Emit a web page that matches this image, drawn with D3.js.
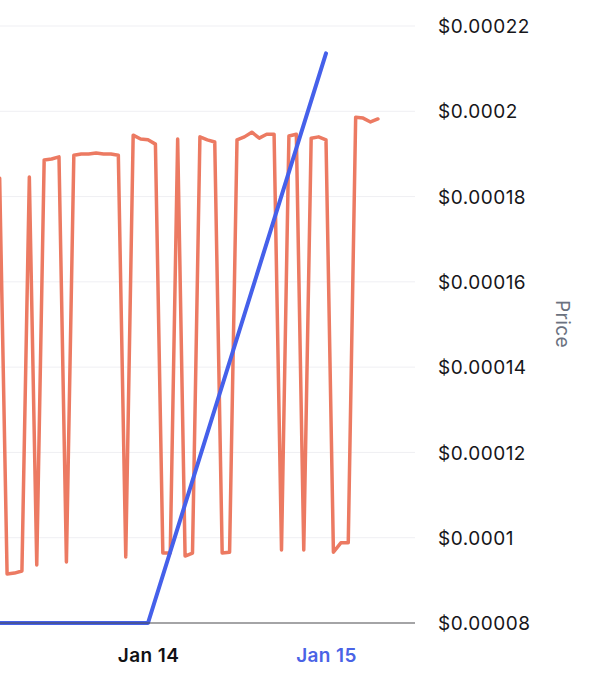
<!DOCTYPE html>
<html>
<head>
<meta charset="utf-8">
<script src="https://cdn.jsdelivr.net/npm/d3@7"></script>
<style>
  html, body { margin: 0; padding: 0; background: #ffffff; }
  svg { display: block; font-family: Inter, "Noto Sans", sans-serif; }
</style>
</head>
<body>
<svg id="chart" width="606" height="680"></svg>
<script>
// ---- data ----
// hourly price series (orange), starting Jan 13 04:00
const orangeStart = "2024-01-13T04:00:00";
const orangeValues = [
  0.0001843, 0.0000915, 0.0000917, 0.0000922, 0.0001846, 0.0000936, 0.0001886, 0.0001888,
  0.0001893, 0.0000943, 0.0001897, 0.0001900, 0.0001900, 0.0001902, 0.0001900, 0.0001900,
  0.0001897, 0.0000955, 0.0001944, 0.0001935, 0.0001933, 0.0001923, 0.0000964, 0.0000964,
  0.0001935, 0.0000957, 0.0000964, 0.0001940, 0.0001933, 0.0001928, 0.0000964, 0.0000966,
  0.0001933, 0.0001940, 0.0001951, 0.0001937, 0.0001946, 0.0001946, 0.0000971, 0.0001942,
  0.0001946, 0.0000971, 0.0001937, 0.0001940, 0.0001933, 0.0000966, 0.0000988, 0.0000988,
  0.0001986, 0.0001984, 0.0001975, 0.0001982
];
// daily series (blue)
const blueDates = ["2024-01-12", "2024-01-13", "2024-01-14", "2024-01-15"];
const blueValues = [0.00008, 0.00008, 0.00008, 0.0002136];
// axes
const yTicks = [0.00008, 0.0001, 0.00012, 0.00014, 0.00016, 0.00018, 0.0002, 0.00022];
const xTickDates = ["2024-01-14", "2024-01-15"];
const xTickLabels = ["Jan 14", "Jan 15"];
const yAxisTitle = "Price";

// ---- layout ----
const parseDay = d3.timeParse("%Y-%m-%d");
const parseHour = d3.isoParse;
const plotLeft = 0, plotRight = 415, plotTop = 26, plotBottom = 623;

const x = d3.scaleTime()
  .domain([parseDay("2024-01-14"), parseDay("2024-01-15")])
  .range([148, 326]);
const y = d3.scaleLinear()
  .domain([0.00008, 0.00022])
  .range([plotBottom, plotTop]);

const t0 = parseHour(orangeStart);
const orangeData = orangeValues.map((v, i) => ({ t: d3.timeHour.offset(t0, i), v }));
const blueData = blueDates.map((d, i) => ({ t: parseDay(d), v: blueValues[i] }));

const svg = d3.select("#chart");

svg.append("defs").append("clipPath").attr("id", "plotclip")
  .append("rect").attr("x", plotLeft).attr("y", 0)
  .attr("width", plotRight - plotLeft).attr("height", plotBottom + 2);

// gridlines
svg.append("g").selectAll("line")
  .data(yTicks.filter(t => t > 0.00008))
  .join("line")
  .attr("x1", plotLeft).attr("x2", plotRight)
  .attr("y1", d => y(d)).attr("y2", d => y(d))
  .attr("stroke", "#efeff3").attr("stroke-width", 1);

// y axis (right), labels only
const fmt = v => "$" + String(+v.toFixed(5));
const yAxis = d3.axisRight(y).tickValues(yTicks).tickFormat(fmt).tickSize(0).tickPadding(0);
const gy = svg.append("g").attr("transform", "translate(438,0)").call(yAxis);
gy.select(".domain").remove();
gy.selectAll("text")
  .attr("fill", "#16161a")
  .style("font-size", "19px")
  .style("letter-spacing", "0.5px")
  .style("font-family", "Inter, 'Noto Sans', sans-serif")
  .attr("dy", "0.35em");

// y axis title
svg.append("text")
  .attr("transform", "translate(556,324) rotate(90)")
  .attr("text-anchor", "middle")
  .attr("fill", "#6b7280")
  .style("font-size", "19px")
  .style("letter-spacing", "0.4px")
  .text(yAxisTitle);

// lines
const line = d3.line().x(d => x(d.t)).y(d => y(d.v)).curve(d3.curveLinear);
const plot = svg.append("g").attr("clip-path", "url(#plotclip)");

plot.append("path").datum(orangeData)
  .attr("d", line)
  .attr("fill", "none")
  .attr("stroke", "#ec7a62")
  .attr("stroke-width", 3.5)
  .attr("stroke-linejoin", "round")
  .attr("stroke-linecap", "round");

// bottom axis
const xAxis = d3.axisBottom(x)
  .tickValues(xTickDates.map(parseDay))
  .tickFormat((d, i) => xTickLabels[i])
  .tickSize(0).tickPadding(26);
const gx = svg.append("g").attr("transform", `translate(0,${plotBottom})`).call(xAxis);
gx.select(".domain").remove();
gx.selectAll("text")
  .style("font-size", "19px")
  .style("font-weight", "600")
  .style("letter-spacing", "0.4px")
  .style("font-family", "Inter, 'Noto Sans', sans-serif")
  .attr("fill", (d, i) => i === xTickLabels.length - 1 ? "#4a63e6" : "#111114");

svg.append("line")
  .attr("x1", plotLeft).attr("x2", plotRight)
  .attr("y1", plotBottom).attr("y2", plotBottom)
  .attr("stroke", "#4a4a4f").attr("stroke-width", 1.2);

plot.append("path").datum(blueData)
  .attr("d", line)
  .attr("fill", "none")
  .attr("stroke", "#4560ea")
  .attr("stroke-width", 4)
  .attr("stroke-linejoin", "round")
  .attr("stroke-linecap", "round");
</script>
</body>
</html>
